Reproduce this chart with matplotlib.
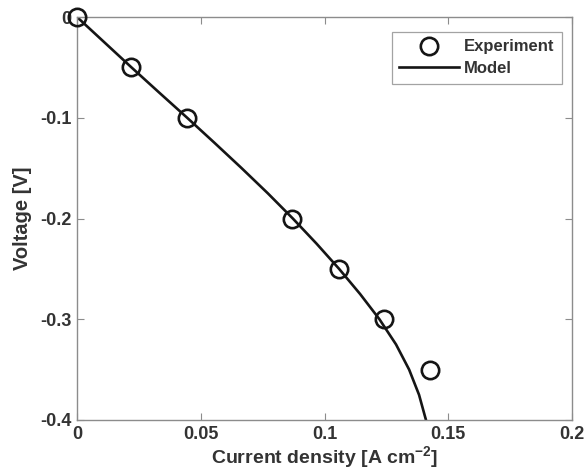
import matplotlib
matplotlib.use("Agg")
import matplotlib.pyplot as plt

# Measured polarization points
exp_current = [0.0, 0.022, 0.0445, 0.087, 0.106, 0.124, 0.1425]
exp_voltage = [0.0, -0.05, -0.10, -0.20, -0.25, -0.30, -0.35]

# Model curve
model_voltage = [0.0, -0.025, -0.05, -0.075, -0.10, -0.125, -0.15, -0.175, -0.20,
                 -0.225, -0.25, -0.275, -0.30, -0.325, -0.35, -0.375, -0.40]
model_current = [0.0, 0.0110, 0.0220, 0.0332, 0.0445, 0.0556, 0.0665, 0.0771, 0.0872,
                 0.0968, 0.1059, 0.1144, 0.1222, 0.1289, 0.1342, 0.1382, 0.1410]

x_ticks = [0, 0.05, 0.1, 0.15, 0.2]
x_ticklabels = ["0", "0.05", "0.1", "0.15", "0.2"]
y_ticks = [-0.4, -0.3, -0.2, -0.1, 0]
y_ticklabels = ["-0.4", "-0.3", "-0.2", "-0.1", "0"]

plt.rcParams["font.family"] = ["Liberation Sans", "DejaVu Sans"]
plt.rcParams["font.weight"] = "bold"
plt.rcParams["mathtext.fontset"] = "custom"
plt.rcParams["mathtext.bf"] = "Liberation Sans:bold"
plt.rcParams["mathtext.rm"] = "Liberation Sans:bold"
plt.rcParams["mathtext.default"] = "bf"

text_color = "#333333"
axis_color = "#8c8c8c"

fig = plt.figure(figsize=(5.86, 4.70), dpi=100)
ax = fig.add_axes([77 / 586, 1 - 420 / 470, (572 - 77) / 586, (420 - 17) / 470])

ax.plot(exp_current, exp_voltage, linestyle="none", marker="o", markersize=12.5,
        markerfacecolor="none", markeredgecolor="#151515", markeredgewidth=1.9,
        label="Experiment", clip_on=False, zorder=3)
ax.plot(model_current, model_voltage, color="#151515", linewidth=1.9,
        solid_joinstyle="round", label="Model", zorder=2)

ax.set_xlim(0, 0.2)
ax.set_ylim(-0.4, 0)
ax.set_xticks(x_ticks)
ax.set_xticklabels(x_ticklabels)
ax.set_yticks(y_ticks)
ax.set_yticklabels(y_ticklabels)

for sp in ax.spines.values():
    sp.set_color(axis_color)
    sp.set_linewidth(1.0)
ax.tick_params(direction="in", length=5, width=0.8, color=axis_color,
               top=True, right=True, labelsize=13, labelcolor=text_color, pad=4)
for lab in ax.get_xticklabels() + ax.get_yticklabels():
    lab.set_fontweight("bold")

ax.set_xlabel("Current density [A cm$^{-2}$]", fontsize=14,
              fontweight="bold", color=text_color, labelpad=1)
ax.set_ylabel("Voltage [V]", fontsize=14.5, fontweight="bold",
              color=text_color, labelpad=6)

leg = ax.legend(loc="upper right", bbox_to_anchor=(0.98, 0.963), frameon=True,
                fancybox=False, edgecolor=axis_color, handlelength=3.6,
                handletextpad=0.3, borderpad=0.45, labelspacing=0.4,
                borderaxespad=0.0, prop={"weight": "bold", "size": 12})
leg.get_frame().set_linewidth(0.9)
for t in leg.get_texts():
    t.set_color(text_color)

fig.savefig("out.png", dpi=100, facecolor="white")
